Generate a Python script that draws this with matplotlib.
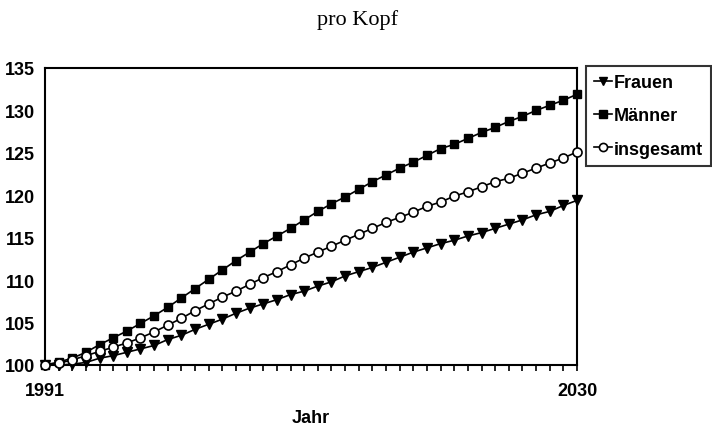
import numpy as np
import matplotlib
matplotlib.use("Agg")
import matplotlib.pyplot as plt

# index values per head, 1991 = 100
years = list(range(1991, 2031))

frauen = [100.0, 100.0, 100.1, 100.3, 100.8, 101.1, 101.5, 101.9, 102.3, 103.0,
          103.5, 104.2, 104.8, 105.4, 106.1, 106.7, 107.2, 107.7, 108.3, 108.7,
          109.3, 109.8, 110.5, 111.0, 111.5, 112.1, 112.7, 113.3, 113.8, 114.3,
          114.7, 115.2, 115.6, 116.1, 116.6, 117.1, 117.7, 118.1, 118.8, 119.4]

maenner = [100.0, 100.35, 100.8, 101.5, 102.4, 103.2, 104.0, 104.9, 105.8, 106.8,
           107.9, 109.0, 110.1, 111.2, 112.3, 113.3, 114.3, 115.2, 116.1, 117.1,
           118.1, 119.0, 119.8, 120.7, 121.6, 122.4, 123.2, 123.9, 124.7, 125.5,
           126.0, 126.7, 127.4, 128.0, 128.7, 129.3, 130.0, 130.6, 131.2, 131.9]

insgesamt = [100.0, 100.2, 100.6, 101.1, 101.6, 102.1, 102.6, 103.2, 103.9, 104.7,
             105.5, 106.4, 107.2, 108.0, 108.7, 109.5, 110.3, 111.0, 111.8, 112.6,
             113.3, 114.0, 114.7, 115.4, 116.1, 116.8, 117.4, 118.0, 118.7, 119.2,
             119.9, 120.4, 121.0, 121.6, 122.0, 122.6, 123.2, 123.8, 124.4, 125.1]

names = ["Frauen", "Männer", "insgesamt"]
y_ticks = [100, 105, 110, 115, 120, 125, 130, 135]
x_labels = [1991, 2030]


def main():
    sans = "Liberation Sans"
    fsize = 13

    fig = plt.figure(figsize=(7.12, 4.31), dpi=100)
    ax = fig.add_axes([45 / 712, 1 - 366 / 431, (577 - 45) / 712, (366 - 69) / 431])

    ax.plot(years, frauen, color="black", linewidth=1.2, marker="v",
            markersize=6.5, label=names[0], clip_on=False, zorder=3)
    ax.plot(years, maenner, color="black", linewidth=1.2, marker="s",
            markersize=5.8, label=names[1], clip_on=False, zorder=3)
    ax.plot(years, insgesamt, color="black", linewidth=1.2, marker="o",
            markersize=6.5, markerfacecolor="white", markeredgewidth=1.2,
            label=names[2], clip_on=False, zorder=3)

    ax.set_xlim(years[0], years[-1])
    ax.set_ylim(100, 135)
    ax.set_yticks(y_ticks)
    ax.set_yticklabels([str(v) for v in y_ticks], fontsize=fsize,
                       fontweight="bold", family=sans)
    ax.set_xticks(x_labels)
    ax.set_xticklabels([str(v) for v in x_labels], fontsize=fsize,
                       fontweight="bold", family=sans)
    ax.set_xticks(years, minor=True)

    ax.tick_params(axis="y", length=0, pad=7)
    ax.tick_params(axis="x", which="both", direction="out", length=4,
                   width=1.2, pad=8)

    for s in ax.spines.values():
        s.set_linewidth(1.5)
        s.set_color("black")

    fig.text(0.502, 0.954, "pro Kopf", ha="center", va="center",
             fontsize=16, family="Liberation Serif")
    fig.text(311 / 712, 1 - 419 / 431, "Jahr", ha="center", va="center",
             fontsize=fsize, fontweight="bold", family=sans)

    leg = fig.legend(loc="upper left", bbox_to_anchor=(586 / 712, 1 - 67 / 431),
                     prop={"family": sans, "weight": "bold", "size": fsize},
                     frameon=True, fancybox=False, handlelength=1.0,
                     handletextpad=0.1, borderpad=0.45, labelspacing=0.9,
                     borderaxespad=0, markerscale=0.9)
    leg.get_frame().set_edgecolor("black")
    leg.get_frame().set_linewidth(1.5)

    fig.savefig("out.png", dpi=100)


if __name__ == '__main__':
    main()
